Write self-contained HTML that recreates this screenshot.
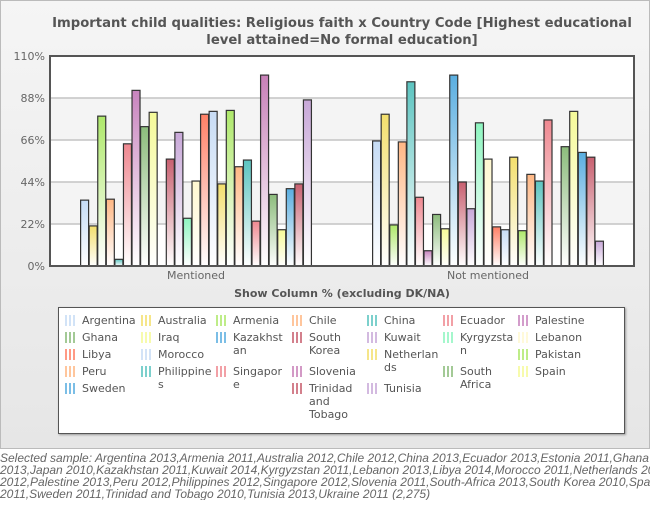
<!DOCTYPE html>
<html><head><meta charset="utf-8">
<style>
body{margin:0;width:650px;height:507px;background:#fff;font-family:"Liberation Sans","DejaVu Sans",sans-serif;position:relative;overflow:hidden}
#panel{position:absolute;left:0;top:0;width:648px;height:447px;border:1px solid #bbb;background:linear-gradient(#f5f5f5,#e6e6e6)}
#title{position:absolute;left:45px;top:15px;width:594px;text-align:center;font:bold 13.2px "DejaVu Sans",sans-serif;color:#555;line-height:17px}
#legend{position:absolute;left:58px;top:307px;width:565px;height:125px;border:1px solid #555;background:#fff;box-shadow:1px 1px 2px #999}
.li{position:absolute;font:11px "DejaVu Sans",sans-serif;color:#555;line-height:13px;width:55px;overflow-wrap:anywhere}
.li i{position:absolute;left:-17px;top:1px;width:11px;height:11px}
#foot{position:absolute;left:0;top:452px;width:650px;overflow:hidden;font:italic 12px "Liberation Sans",sans-serif;color:#666;line-height:12px;white-space:nowrap}
</style></head><body>
<div id="panel"></div>
<div id="title">Important child qualities: Religious faith x Country Code [Highest educational level attained=No formal education]</div>
<svg id="chart" width="650" height="300" style="position:absolute;left:0;top:0"></svg>
<div id="legend"></div>
<div id="foot">Selected sample: Argentina 2013,Armenia 2011,Australia 2012,Chile 2012,China 2013,Ecuador 2013,Estonia 2011,Ghana 2012,Iraq<br>2013,Japan 2010,Kazakhstan 2011,Kuwait 2014,Kyrgyzstan 2011,Lebanon 2013,Libya 2014,Morocco 2011,Netherlands 2012,Pakistan<br>2012,Palestine 2013,Peru 2012,Philippines 2012,Singapore 2012,Slovenia 2011,South-Africa 2013,South Korea 2010,Spain<br>2011,Sweden 2011,Trinidad and Tobago 2010,Tunisia 2013,Ukraine 2011 (2,275)</div>
<script>
const categories=["Mentioned","Not mentioned"];
const series=["Argentina","Australia","Armenia","Chile","China","Ecuador","Palestine","Ghana","Iraq","Kazakhstan","South Korea","Kuwait","Kyrgyzstan","Lebanon","Libya","Morocco","Netherlands","Pakistan","Peru","Philippines","Singapore","Slovenia","South Africa","Spain","Sweden","Trinidad and Tobago","Tunisia"];
const mentioned=[34.5,21,78.5,35,3.5,64,92,73,80.5,0,56,70,25,44.5,79.5,81,43,81.5,52,55.5,23.5,100,37.5,19,40.5,43,87];
const notMentioned=[65.5,79.5,21.5,65,96.5,36,8,27,19.5,100,44,30,75,56,20.5,19,57,18.5,48,44.5,76.5,0,62.5,81,59.5,57,13];
const ticks=["0%","22%","44%","66%","88%","110%"];
const tickVals=[0,22,44,66,88,110];
const colors=["#c6dcf5","#f3df6c","#aee86a","#ffb784","#5cc4c0","#ef8890","#c884be","#8cbc7c","#f5fa98","#5aaee0","#c86070","#c8a8d8","#8ef5c0","#fff8d0","#ff8066","#c8dcf5","#f3df6c","#aee86a","#ffb784","#5cc4c0","#ef8890","#c880b8","#8cbc7c","#f5fa98","#5aaee0","#c86070","#c8a8d8"];
const NS="http://www.w3.org/2000/svg";
const svg=document.getElementById('chart');
const X0=50,X1=634,Y0=266,Y1=56;
const y=v=>Y0-(v/110)*(Y0-Y1);
function el(t,a){const e=document.createElementNS(NS,t);for(const k in a)e.setAttribute(k,a[k]);svg.appendChild(e);return e;}
const defs=el('defs',{});
colors.forEach((c,i)=>{const g=document.createElementNS(NS,'linearGradient');g.setAttribute('id','g'+i);g.setAttribute('x1','0');g.setAttribute('y1','0');g.setAttribute('x2','0');g.setAttribute('y2','1');
g.innerHTML='<stop offset="0" stop-color="'+c+'"/><stop offset="1" stop-color="#fff"/>';defs.appendChild(g);});
const bg=el('rect',{x:X0,y:Y1,width:X1-X0,height:Y0-Y1,fill:'#fff'});


for(let i=0;i<tickVals.length-1;i++){if(i%2===1){const b=el('rect',{x:X0,y:y(tickVals[i+1]),width:X1-X0,height:y(tickVals[i])-y(tickVals[i+1]),fill:'#f4f4f4'});}}
tickVals.forEach((v,i)=>{
 const l=el('line',{x1:X0,x2:X1,y1:y(v),y2:y(v),stroke:'#c4c4c4','stroke-width':1.5});
 
 
 const t=el('text',{x:45,y:y(v)+4,'text-anchor':'end','font-size':11,fill:'#666','font-family':'DejaVu Sans,sans-serif'});
 t.textContent=ticks[i];
 
 
});
const gw=(X1-X0)/categories.length, slot=8.57, bw=8;
[mentioned,notMentioned].forEach((vals,ci)=>{
 const cx=X0+gw*(ci+0.5), start=cx-slot*series.length/2;
 vals.forEach((v,si)=>{
  if(v<=0)return;
  const r=el('rect',{x:start+si*slot+0.3,y:y(v),width:bw,height:Y0-y(v),fill:'url(#g'+si+')',stroke:'#333','stroke-width':1.2});
  
  
 });
 const t=el('text',{x:cx,y:279,'text-anchor':'middle','font-size':11,fill:'#666','font-family':'DejaVu Sans,sans-serif'});
 t.textContent=categories[ci];
 
 
});
const fr=el('path',{d:`M${X0} ${Y1}H${X1}V${Y0}H${X0}Z`,fill:'none',stroke:'#555','stroke-width':2});


const xt=el('text',{x:342,y:297,'text-anchor':'middle','font-size':11,'font-weight':'bold',fill:'#555','font-family':'DejaVu Sans,sans-serif'});
xt.textContent='Show Column % (excluding DK/NA)';


const leg=document.getElementById('legend');
const colX=[23,99,174,250,325,401,476];
const layout=[[0,0,0],[1,1,0],[2,2,0],[3,3,0],[4,4,0],[5,5,0],[6,6,0],
[7,0,17],[8,1,17],[9,2,17],[10,3,17],[11,4,17],[12,5,17],[13,6,17],
[14,0,34],[15,1,34],[16,4,34],[17,6,34],
[18,0,51],[19,1,51],[20,2,51],[21,3,51],[22,5,51],[23,6,51],
[24,0,68],[25,3,68],[26,4,68]];
layout.forEach(([si,c,yy])=>{
 const d=document.createElement('div');d.className='li';
 
 
 d.style.left=colX[c]+'px';d.style.top=(6+yy)+'px';
 const ic=document.createElement('i');
 ic.style.background=`linear-gradient(90deg,${colors[si]} 2px,transparent 2px,transparent 4px,${colors[si]} 4px,${colors[si]} 6px,transparent 6px,transparent 8px,${colors[si]} 8px,${colors[si]} 10px,transparent 10px)`;
 ic.style.opacity='0.8';
 d.appendChild(ic);
 d.appendChild(document.createTextNode(series[si]));
 leg.appendChild(d);
});
</script>
</body></html>
